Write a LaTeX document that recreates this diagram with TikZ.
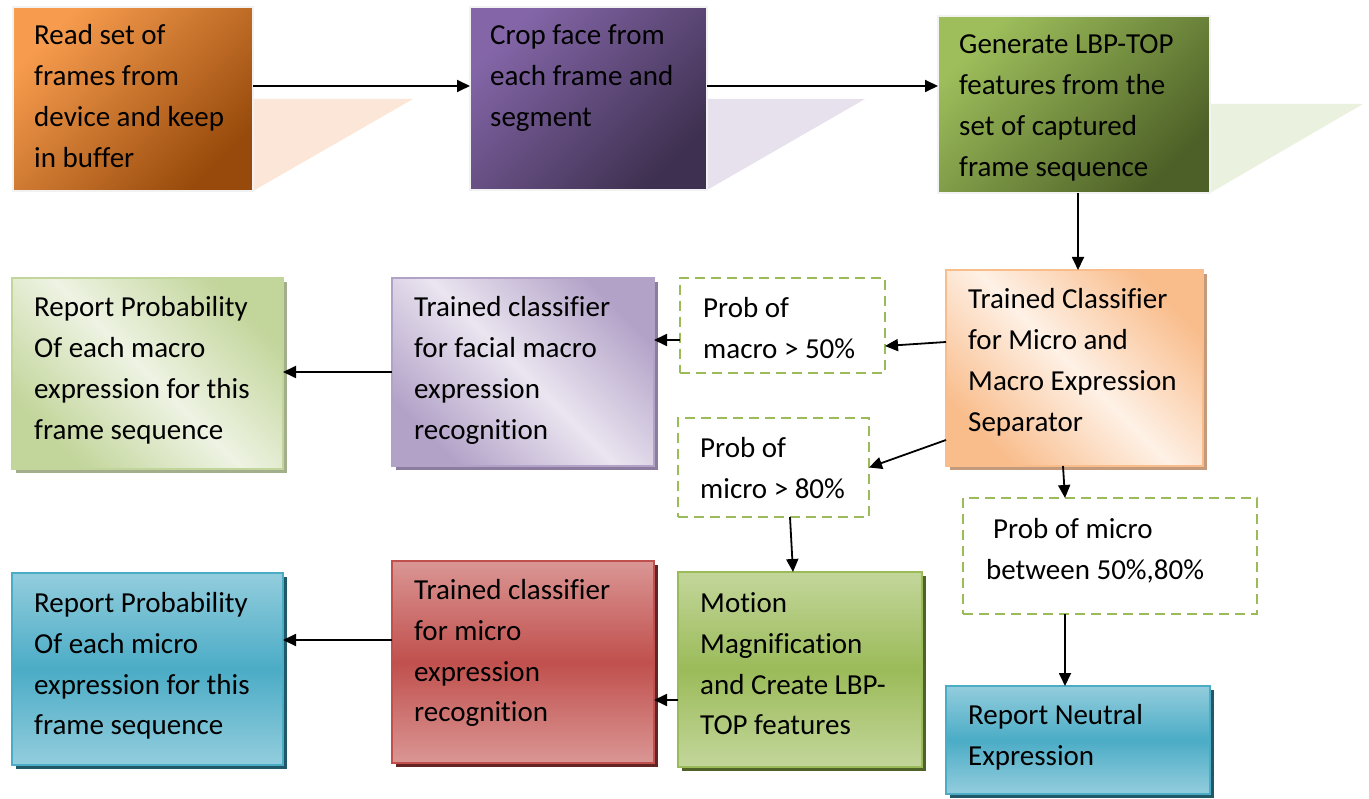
\documentclass[tikz,border=0pt]{standalone}
\usepackage{fontspec}
\setmainfont{Carlito}[Ligatures=NoCommon]
\usetikzlibrary{arrows.meta,calc,shadows}

\newcommand\boxlines[1]{\begin{tabular}[t]{@{}l@{}}#1\end{tabular}}

% top row (dark diagonal gradients)
\definecolor{orA}{HTML}{F79C4E}
\definecolor{orB}{HTML}{974A0B}
\definecolor{puA}{HTML}{8466A8}
\definecolor{puB}{HTML}{3E3050}
\definecolor{grA}{HTML}{9DBE5B}
\definecolor{grB}{HTML}{4D6027}
\definecolor{orR}{HTML}{FBE6D7}
\definecolor{puR}{HTML}{E6E1ED}
\definecolor{grR}{HTML}{EBF1DF}
\definecolor{topEdge}{HTML}{F2F2F2}
% light diagonal gradients
\definecolor{pcA}{HTML}{F9BD8C}
\definecolor{pcB}{HTML}{FEF1E6}
\definecolor{pcS}{HTML}{C49A7C}
\definecolor{lpA}{HTML}{B3A2C8}
\definecolor{lpB}{HTML}{EAE5F0}
\definecolor{lpS}{HTML}{8C7CA0}
\definecolor{lgA}{HTML}{C2D59A}
\definecolor{lgB}{HTML}{EEF3E3}
\definecolor{lgS}{HTML}{A2AE8C}
% vertical gradients
\definecolor{vgA}{HTML}{C3D69B}
\definecolor{vgB}{HTML}{9BBB59}
\definecolor{vgS}{HTML}{4F6228}
\definecolor{rdA}{HTML}{DA9694}
\definecolor{rdB}{HTML}{C0504D}
\definecolor{rdS}{HTML}{632423}
\definecolor{blA}{HTML}{93CDDD}
\definecolor{blB}{HTML}{4BACC6}
\definecolor{blS}{HTML}{215968}
\definecolor{dashGreen}{HTML}{9BBB59}

\begin{document}
\begin{tikzpicture}[x=1pt,y=-1pt,
  box/.style={rectangle, inner sep=0pt, outer sep=0pt, anchor=north west, line width=2pt},
  topbox/.style 2 args={box, draw=topEdge, top color=#1, bottom color=#2, shading angle=45},
  diagbox/.style n args={3}{box, draw=#1, top color=#1, bottom color=#1, middle color=#2,
      shading angle=-45, general shadow={fill=#3, shadow xshift=4pt, shadow yshift=-4pt}},
  vertbox/.style n args={3}{box, draw=#2, top color=#1, bottom color=#1, middle color=#2,
      general shadow={fill=#3, shadow xshift=4pt, shadow yshift=-4pt}},
  dbox/.style={box, draw=dashGreen, fill=white, line width=2.2pt, dash pattern=on 10pt off 6pt},
  txt/.style={anchor=base west, inner sep=0pt, font=\fontsize{29}{41}\selectfont},
  arr/.style={-{Triangle[length=13pt,width=12pt]}, line width=1.8pt},
]
\useasboundingbox (0,0) rectangle (1369,799);

% reflections under the top row
\fill[orR] (253,99) -- (413,99) -- (253,191) -- cycle;
\fill[puR] (707,99) -- (865,99) -- (707,190) -- cycle;
\fill[grR] (1210,104) -- (1363,104) -- (1210,193) -- cycle;

% top row
\node[topbox={orA}{orB}, minimum width=240pt, minimum height=184pt] (b1) at (13,7) {};
\node[txt] (t1) at ($(b1.north west)+(21,38)$) {\boxlines{Read set of\\frames from\\device and keep\\in buffer}};

\node[topbox={puA}{puB}, minimum width=237pt, minimum height=183pt] (b2) at (470,7) {};
\node[txt] (t2) at ($(b2.north west)+(20,38)$) {\boxlines{Crop face from\\each frame and\\segment}};

\node[topbox={grA}{grB}, minimum width=272pt, minimum height=177pt] (b3) at (938,16) {};
\node[txt] (t3) at ($(b3.north west)+(21,38)$) {\boxlines{Generate LBP-TOP\\features from the\\set of captured\\frame sequence}};

% separator
\node[diagbox={pcA}{pcB}{pcS}, minimum width=257pt, minimum height=196pt] (b4) at (946,270) {};
\node[txt] (t4) at ($(b4.north west)+(22,39)$) {\boxlines{Trained Classifier\\for Micro and\\Macro Expression\\Separator}};

% decision boxes
\node[dbox, minimum width=205pt, minimum height=95pt] (d5) at (680,278) {};
\node[txt] (t5) at ($(d5.north west)+(23,40)$) {\boxlines{Prob of\\macro > 50\%}};

\node[dbox, minimum width=191pt, minimum height=99pt] (d8) at (678,418) {};
\node[txt] (t8) at ($(d8.north west)+(22,40)$) {\boxlines{Prob of\\micro > 80\%}};

\node[dbox, minimum width=294pt, minimum height=116pt] (d12) at (963,498) {};
\node[txt] (t12) at ($(d12.north west)+(23,40)$) {\boxlines{\hspace{7pt}Prob of micro\\between 50\%,80\%}};

% macro branch
\node[diagbox={lpA}{lpB}{lpS}, minimum width=262pt, minimum height=188pt] (b6) at (392,278) {};
\node[txt] (t6) at ($(b6.north west)+(22,39)$) {\boxlines{Trained classifier\\for facial macro\\expression\\recognition}};

\node[diagbox={lgA}{lgB}{lgS}, minimum width=271pt, minimum height=191pt] (b7) at (12,278) {};
\node[txt] (t7) at ($(b7.north west)+(22,39)$) {\boxlines{Report Probability\\Of each macro\\expression for this\\frame sequence}};

% micro branch
\node[vertbox={vgA}{vgB}{vgS}, minimum width=244pt, minimum height=195pt] (b9) at (678,572) {};
\node[txt] (t9) at ($(b9.north west)+(22,40)$) {\boxlines{Motion\\Magnification\\and Create LBP-\\TOP features}};

\node[vertbox={rdA}{rdB}{rdS}, minimum width=262pt, minimum height=202pt] (b10) at (392,561) {};
\node[txt] (t10) at ($(b10.north west)+(22,38)$) {\boxlines{Trained classifier\\for micro\\expression\\recognition}};

\node[vertbox={blA}{blB}{blS}, minimum width=271pt, minimum height=192pt] (b11) at (12,573) {};
\node[txt] (t11) at ($(b11.north west)+(22,39)$) {\boxlines{Report Probability\\Of each micro\\expression for this\\frame sequence}};

% neutral
\node[vertbox={blA}{blB}{blS}, minimum width=264pt, minimum height=108pt] (b13) at (946,686) {};
\node[txt] (t13) at ($(b13.north west)+(22,38)$) {\boxlines{Report Neutral\\Expression}};

% connectors
\draw[arr] ([yshift=13pt]b1.east) -- ([yshift=13pt]b1.east -| b2.west);
\draw[arr] ([yshift=12.5pt]b2.east) -- ([yshift=12.5pt]b2.east -| b3.west);
\draw[arr] ([xshift=4pt]b3.south) -- ([xshift=4pt]b3.south |- b4.north);
\draw[arr] ([yshift=26pt]b4.west) -- ([yshift=-20.5pt]d5.east);
\draw[arr] ([yshift=-14.5pt]d5.west) -- ([yshift=-14.5pt]d5.west -| b6.east);
\draw[arr] (b6.west) -- (b6.west -| b7.east);
\draw[arr] ([yshift=-72pt]b4.west) -- (d8.east);
\draw[arr] ([xshift=16.5pt]d8.south) -- ([xshift=-7pt]b9.north);
\draw[arr] ([yshift=-30.5pt]b9.west) -- ([yshift=-30.5pt]b9.west -| b10.east);
\draw[arr] ([yshift=22pt]b10.west) -- ([yshift=22pt]b10.west -| b11.east);
\draw[arr] ([xshift=-11.5pt]b4.south) -- ([xshift=-45pt]d12.north);
\draw[arr] ([xshift=-45pt]d12.south) -- ([xshift=-45pt]d12.south |- b13.north);
\end{tikzpicture}
\end{document}
